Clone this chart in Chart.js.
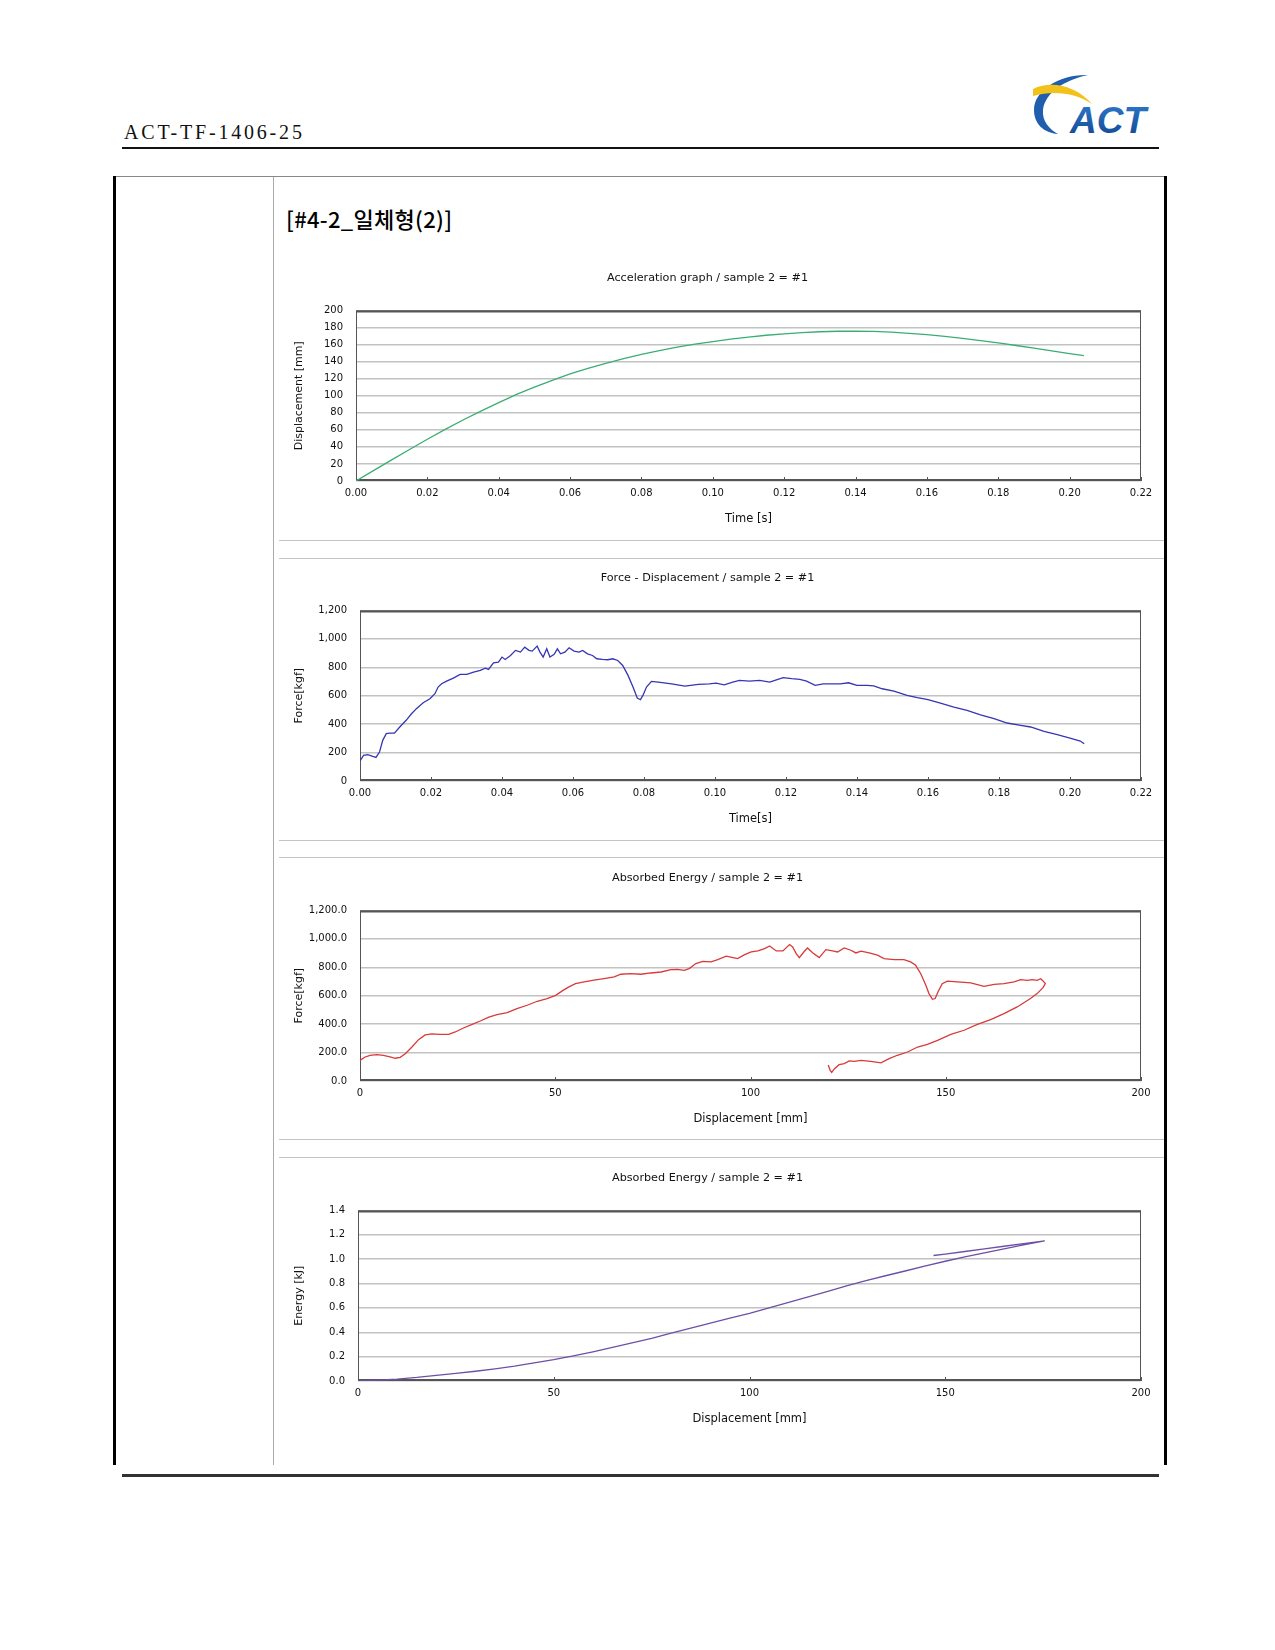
<!DOCTYPE html>
<html>
<head>
<meta charset="utf-8">
<script src="https://cdn.jsdelivr.net/npm/chart.js@4.4.1/dist/chart.umd.min.js"></script>
<style>
  body { margin: 0; background: #fff; }
  #page { position: relative; width: 1275px; height: 1650px; overflow: hidden; background: #fff; }
  .abs { position: absolute; }
  .docno { left: 124px; top: 121px; font: 20px "Liberation Serif", serif; letter-spacing: 2.8px; color: #111; }
  .sample { left: 286px; top: 202px; font: 500 22px "Noto Sans CJK KR", sans-serif; color: #000; letter-spacing: 0.3px; }
  canvas { position: absolute; left: 274px; }
</style>
</head>
<body>
<div id="page">
  <div class="abs docno">ACT-TF-1406-25</div>
  <div class="abs" style="left:122px;top:147px;width:1037px;height:2px;background:#111"></div>
  <svg class="abs" style="left:1030px;top:72px" width="122" height="66" viewBox="0 0 122 66">
    <defs>
      <linearGradient id="actg" x1="0" y1="0" x2="0" y2="1">
        <stop offset="0" stop-color="#2f7ccc"/>
        <stop offset="1" stop-color="#0f4590"/>
      </linearGradient>
    </defs>
    <path d="M58 3 C30 2 4 18 4 38 C4 52 14 61 28 62 C19 57 12 49 13 38 C15 21 34 8 58 3 Z" fill="#1f5fae"/>
    <path d="M3 17 C22 8 46 14 62 32 C46 21 24 18 3 24 Z" fill="#f2c11a"/>
    <text x="40" y="61" font-family="Liberation Sans, sans-serif" font-weight="bold" font-style="italic" font-size="37" fill="url(#actg)">ACT</text>
  </svg>

  <div class="abs" style="left:114px;top:176px;width:1052px;height:1px;background:#888"></div>
  <div class="abs" style="left:113px;top:176px;width:3px;height:1289px;background:#000"></div>
  <div class="abs" style="left:1164px;top:176px;width:3px;height:1289px;background:#000"></div>
  <div class="abs" style="left:273px;top:177px;width:1px;height:1288px;background:#aaa"></div>
  <div class="abs" style="left:279px;top:540px;width:885px;height:1px;background:#c4c4c4"></div>
  <div class="abs" style="left:279px;top:558px;width:885px;height:1px;background:#c4c4c4"></div>
  <div class="abs" style="left:279px;top:840px;width:885px;height:1px;background:#c4c4c4"></div>
  <div class="abs" style="left:279px;top:857px;width:885px;height:1px;background:#c4c4c4"></div>
  <div class="abs" style="left:279px;top:1139px;width:885px;height:1px;background:#c4c4c4"></div>
  <div class="abs" style="left:279px;top:1157px;width:885px;height:1px;background:#c4c4c4"></div>
  <div class="abs" style="left:122px;top:1474px;width:1037px;height:3px;background:#333"></div>

  <div class="abs sample">[#4-2_일체형(2)]</div>

  <canvas id="c1" width="892" height="269" style="top:262px"></canvas>
  <canvas id="c2" width="892" height="269" style="top:562px"></canvas>
  <canvas id="c3" width="892" height="269" style="top:862px"></canvas>
  <canvas id="c4" width="892" height="269" style="top:1162px"></canvas>
</div>
<script>
// Displacement vs time
const accTime = [0, 0.005, 0.01, 0.015, 0.02, 0.025, 0.03, 0.035, 0.04, 0.045, 0.05, 0.055, 0.06, 0.065, 0.07, 0.075,
  0.08, 0.085, 0.09, 0.095, 0.1, 0.105, 0.11, 0.115, 0.12, 0.125, 0.13, 0.135, 0.14, 0.145, 0.15, 0.155, 0.16,
  0.165, 0.17, 0.175, 0.18, 0.185, 0.19, 0.195, 0.2, 0.204];
const accDisp = [0, 12.4, 24.8, 37, 49, 60.5, 71.5, 82, 92, 101.5, 110, 118, 125.5, 132, 138, 143.5,
  148.5, 153, 157, 160.5, 163.5, 166.3, 168.8, 170.9, 172.6, 174, 175, 175.6, 175.8, 175.4, 174.5, 173.2, 171.6,
  169.6, 167.3, 164.7, 161.9, 158.9, 155.8, 152.6, 149.4, 147];

// Force vs time (blue curve)
const forceTime = [0, 0.001, 0.0022, 0.0036, 0.0045, 0.0055, 0.0064, 0.0074, 0.0083, 0.0097, 0.0112, 0.013, 0.0145,
  0.0159, 0.0178, 0.0197, 0.0211, 0.022, 0.023, 0.0244, 0.0263, 0.0282, 0.0301, 0.032, 0.0339, 0.0353, 0.0362,
  0.0376, 0.039, 0.04, 0.0409, 0.0424, 0.0438, 0.0452, 0.0464, 0.0476, 0.0485, 0.0499, 0.0507, 0.0516, 0.0526,
  0.0535, 0.0547, 0.0556, 0.0565, 0.0577, 0.0589, 0.0603, 0.0617, 0.0627, 0.0641, 0.0655, 0.0667, 0.0683, 0.0698,
  0.0712, 0.0726, 0.074, 0.0755, 0.0769, 0.0781, 0.079, 0.0797, 0.0807, 0.0821, 0.084, 0.0878, 0.0915, 0.0953,
  0.0984, 0.1003, 0.1026, 0.105, 0.1069, 0.1097, 0.1126, 0.1154, 0.1173, 0.1192, 0.1216, 0.1239, 0.1258, 0.1282,
  0.1305, 0.1334, 0.1353, 0.1376, 0.14, 0.1428, 0.1447, 0.1471, 0.1504, 0.1541, 0.157, 0.16, 0.1635, 0.1673,
  0.171, 0.1748, 0.1786, 0.1823, 0.1861, 0.1889, 0.1927, 0.1964, 0.2, 0.2029, 0.204];
const forceVal = [141, 180, 185, 173, 166, 204, 286, 333, 337, 337, 380, 427, 473,
  509, 551, 579, 614, 661, 684, 703, 724, 750, 750, 766, 778, 794, 785,
  832, 837, 872, 855, 883, 919, 907, 942, 919, 914, 949, 907, 872, 930,
  872, 891, 930, 895, 907, 937, 914, 907, 919, 895, 883, 860, 855, 853,
  860, 848, 813, 743, 661, 584, 572, 602, 661, 701, 696, 684, 668, 680,
  684, 689, 677, 696, 708, 703, 708, 696, 712, 727, 720, 715, 703, 673,
  684, 684, 684, 691, 673, 673, 670, 649, 633, 602, 586, 572, 548, 520,
  497, 466, 438, 408, 391, 380, 349, 326, 302, 281, 262];

// Force vs displacement (red curve, loading then unloading)
const fdDisp = [0, 1.3, 2.6, 4.3, 6, 7.7, 9, 10.3, 11.6, 13.3,
  15, 16.7, 18.4, 20.5, 22.7, 24.4, 26.5, 28.7, 30.8, 33,
  35.1, 37.7, 40.2, 42.8, 45.4, 47.9, 50.1, 51.8, 53.5, 55.2,
  57.4, 59.9, 62.5, 65.1, 66.8, 69.3, 71.9, 74.5, 77.1, 79.6,
  81.3, 83, 84.3, 86, 87.8, 89.9, 91.6, 93.8, 95.5, 96.7,
  98.5, 100.2, 101.9, 103.6, 104.9, 106.6, 108.3, 110, 110.8, 111.7,
  112.5, 113.8, 114.6, 115.9, 117.6, 119.3, 121, 122.3, 124, 125.7,
  127, 128.3, 130.4, 132.5, 134.2, 136.8, 139.3, 141, 142.3, 143.6,
  144.9, 145.7, 146.6, 147.3, 148, 149.1, 150.4, 153, 156.4, 159.8,
  162.4, 164.9, 167.5, 169.2, 170.9, 172.1, 173.4, 174.3, 174.9, 175.5,
  174.9, 173.4, 171.7, 168.3, 164.9, 161.5, 158.1, 154.7, 151.3, 147.9,
  145.3, 142.8, 140.2, 137.6, 135.5, 133.4, 130.8, 128.3, 126.6, 125.3,
  124, 122.7, 121.5, 120.8, 120.4, 119.9];
const fdForce = [145, 169, 181, 185, 181, 169, 160, 167, 192, 239,
  291, 324, 331, 328, 328, 345, 373, 399, 422, 450,
  467, 481, 509, 533, 561, 580, 603, 634, 662, 685,
  697, 709, 720, 732, 751, 756, 751, 760, 767, 784,
  786, 779, 791, 826, 842, 838, 854, 878, 868, 861,
  889, 908, 915, 931, 950, 915, 915, 960, 943, 896,
  868, 913, 936, 903, 868, 924, 915, 908, 936, 920,
  901, 913, 901, 885, 861, 854, 854, 838, 814, 755,
  673, 615, 575, 580, 626, 685, 702, 697, 690, 666,
  680, 685, 697, 713, 708, 713, 708, 720, 704, 685,
  657, 615, 580, 521, 474, 432, 399, 357, 328, 286,
  258, 239, 204, 181, 157, 127, 138, 145, 138, 141,
  122, 115, 87, 60, 75, 112];

// Absorbed energy vs displacement (purple curve)
const energyDisp = [0, 5, 10, 15, 20, 25, 30, 35, 40, 45, 50, 55, 60, 65, 70, 75, 80, 85, 90, 95, 100,
  105, 110, 115, 120, 125, 130, 135, 140, 145, 150, 155, 160, 165, 170, 175.4,
  170, 165, 160, 155, 150, 147];
const energyVal = [0, 0.007, 0.016, 0.029, 0.047, 0.063, 0.08, 0.1, 0.122, 0.148, 0.175, 0.206, 0.24, 0.276, 0.312, 0.35, 0.393, 0.435, 0.476, 0.516, 0.555,
  0.6, 0.645, 0.69, 0.736, 0.782, 0.826, 0.866, 0.905, 0.945, 0.983, 1.018, 1.052, 1.085, 1.118, 1.15,
  1.128, 1.106, 1.084, 1.063, 1.042, 1.03];

const tickFont = { family: 'DejaVu Sans', size: 10 };
const labelFont = { family: 'DejaVu Sans', size: 11 };

function toPoints(xs, ys) {
  return xs.map((x, i) => ({ x: x, y: ys[i] }));
}

// plot frame plus small inward ticks along the bottom axis
const plotFrame = {
  id: 'plotFrame',
  beforeDatasetsDraw(chart) {
    const { ctx, chartArea: a } = chart;
    const xs = chart.scales.x;
    ctx.save();
    ctx.strokeStyle = '#555';
    ctx.lineWidth = 1;
    ctx.strokeRect(a.left + 0.5, a.top + 0.5, a.right - a.left - 1, a.bottom - a.top - 1);
    ctx.lineWidth = 2;
    ctx.beginPath();
    ctx.moveTo(a.left, a.top + 1);
    ctx.lineTo(a.right, a.top + 1);
    ctx.moveTo(a.left, a.bottom - 1);
    ctx.lineTo(a.right, a.bottom - 1);
    ctx.stroke();
    ctx.lineWidth = 1;
    ctx.beginPath();
    xs.ticks.forEach(t => {
      const px = Math.round(xs.getPixelForValue(t.value)) + 0.5;
      ctx.moveTo(px, a.bottom);
      ctx.lineTo(px, a.bottom - 4);
    });
    ctx.stroke();
    ctx.restore();
  }
};

function makeChart(id, cfg) {
  const ctx = document.getElementById(id).getContext('2d');
  return new Chart(ctx, {
    type: 'scatter',
    data: {
      datasets: [{
        data: cfg.points,
        showLine: true,
        borderColor: cfg.color,
        borderWidth: 1.3,
        pointRadius: 0,
        tension: 0
      }]
    },
    options: {
      responsive: false,
      animation: false,
      devicePixelRatio: 1,
      layout: { padding: { left: 0, right: 25, top: 0, bottom: 0 } },
      plugins: {
        legend: { display: false },
        tooltip: { enabled: false },
        title: {
          display: true,
          text: cfg.title,
          color: '#111',
          font: { family: 'DejaVu Sans', size: 11.2, weight: 'normal' },
          padding: { top: 9, bottom: 26 }
        }
      },
      scales: {
        x: {
          type: 'linear',
          min: cfg.xMin, max: cfg.xMax,
          afterFit: s => { s.height = 50; },
          grid: { display: false, drawTicks: false },
          border: { display: false },
          ticks: {
            stepSize: cfg.xStep, autoSkip: false, maxRotation: 0,
            padding: 6, color: '#111', font: tickFont,
            callback: cfg.xFmt
          },
          title: {
            display: true, text: cfg.xTitle, color: '#111', font: { family: 'DejaVu Sans', size: 11.5 },
            padding: { top: 0, bottom: 5 }
          }
        },
        y: {
          min: cfg.yMin, max: cfg.yMax,
          afterFit: s => { s.width = cfg.plotLeft - 274; },
          grid: { color: '#c2c2c2', lineWidth: 1.5, drawTicks: false },
          border: { display: false },
          ticks: {
            stepSize: cfg.yStep, autoSkip: false,
            padding: 13, color: '#111', font: tickFont,
            callback: cfg.yFmt
          },
          title: {
            display: true, text: cfg.yTitle, color: '#111', font: labelFont,
            padding: { top: 19, bottom: 0 }
          }
        }
      }
    },
    plugins: [plotFrame]
  });
}

const fmt2 = v => Number(v).toFixed(2);
const fmtInt = v => Math.round(v).toString();

makeChart('c1', {
  points: toPoints(accTime, accDisp), color: '#3aae72',
  title: 'Acceleration graph / sample 2 = #1',
  xMin: 0, xMax: 0.22, xStep: 0.02, xFmt: fmt2, xTitle: 'Time [s]',
  yMin: 0, yMax: 200, yStep: 20, yFmt: fmtInt, yTitle: 'Displacement [mm]',
  plotLeft: 356
});

makeChart('c2', {
  points: toPoints(forceTime, forceVal), color: '#3636b4',
  title: 'Force - Displacement / sample 2 = #1',
  xMin: 0, xMax: 0.22, xStep: 0.02, xFmt: fmt2, xTitle: 'Time[s]',
  yMin: 0, yMax: 1200, yStep: 200, yFmt: v => Math.round(v).toLocaleString('en-US'), yTitle: 'Force[kgf]',
  plotLeft: 360
});

makeChart('c3', {
  points: toPoints(fdDisp, fdForce), color: '#d93a3a',
  title: 'Absorbed Energy / sample 2 = #1',
  xMin: 0, xMax: 200, xStep: 50, xFmt: fmtInt, xTitle: 'Displacement [mm]',
  yMin: 0, yMax: 1200, yStep: 200,
  yFmt: v => Number(v).toLocaleString('en-US', { minimumFractionDigits: 1, maximumFractionDigits: 1 }),
  yTitle: 'Force[kgf]',
  plotLeft: 360
});

makeChart('c4', {
  points: toPoints(energyDisp, energyVal), color: '#6f4fa6',
  title: 'Absorbed Energy / sample 2 = #1',
  xMin: 0, xMax: 200, xStep: 50, xFmt: fmtInt, xTitle: 'Displacement [mm]',
  yMin: 0, yMax: 1.4, yStep: 0.2, yFmt: v => Number(v).toFixed(1), yTitle: 'Energy [kJ]',
  plotLeft: 358
});
</script>
</body>
</html>
